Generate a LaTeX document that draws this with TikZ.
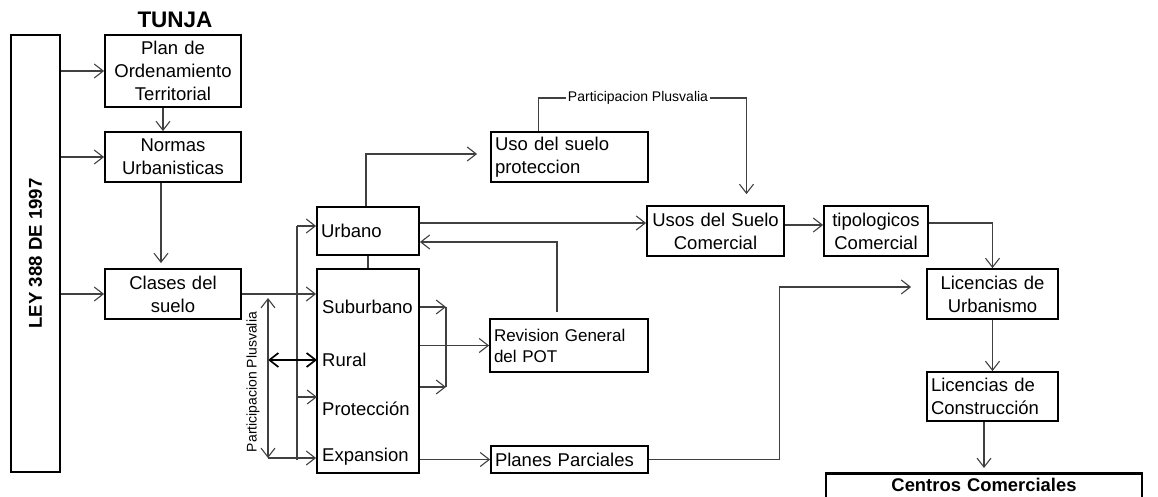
\documentclass[tikz,border=0pt]{standalone}
\usepackage{fontspec}
\setmainfont{Liberation Sans}
\usetikzlibrary{arrows.meta,calc}

\begin{document}
\begin{tikzpicture}[x=1pt,y=-1pt,
  box/.style={draw=black,line width=1.8pt,fill=white,inner xsep=4pt,inner ysep=0pt,font=\fontsize{18.5}{23}\selectfont},
  lbl/.style={inner sep=0pt,anchor=west,font=\fontsize{18.5}{23}\selectfont},
  small/.style={inner sep=1.5pt,font=\fontsize{14}{16}\selectfont},
  conn/.style={draw=black!75,line width=1.1pt},
  arr/.style={conn,-{Straight Barb[length=9pt,width=14pt]}},
  darr/.style={conn,{Straight Barb[length=9pt,width=14pt]}-{Straight Barb[length=9pt,width=14pt]}}]
\useasboundingbox (0,0) rectangle (1158,497);
\clip (0,0) rectangle (1158,497);

\node[font=\bfseries\fontsize{22.5}{26}\selectfont] (tunja) at (175,20) {TUNJA};
\node[box,minimum width=49pt,minimum height=437pt] (ley) at (35.5,253.5) {};
\node[rotate=90,font=\bfseries\fontsize{18.6}{22}\selectfont] (leytext) at (ley) {LEY 388 DE 1997};

\node[box,text width=128pt,minimum height=72pt,align=center] (pot) at (173,71) {Plan de\\Ordenamiento\\Territorial};
\node[box,text width=128pt,minimum height=50pt,align=center] (normas) at (173,157) {Normas\\Urbanisticas};
\node[box,text width=128pt,minimum height=50pt,align=center] (clases) at (173,294) {Clases del\\suelo};

\node[box,text width=94pt,minimum height=48pt,align=left] (urbano) at (368,231) {Urbano};
\node[box,minimum width=102pt,minimum height=204pt] (suelo) at (368,371) {};
\node[lbl] (suburbano) at (322,307) {Suburbano};
\node[lbl] (rural) at (322,360) {Rural};
\node[lbl] (proteccion) at (322,409) {Protección};
\node[lbl] (expansion) at (322,457) {Expansion};

\node[box,text width=149pt,minimum height=50pt,align=left] (usobox) at (569.5,157) {Uso del suelo\\proteccion};
\node[box,text width=150pt,minimum height=53pt,align=left,font=\fontsize{17}{21}\selectfont] (revision) at (569,345.5) {Revision General\\del POT};
\node[box,text width=149pt,minimum height=27pt,align=left] (planes) at (569.5,459.5) {Planes Parciales};

\node[box,text width=129pt,minimum height=50pt,align=center] (usos) at (715.5,231) {Usos del Suelo\\Comercial};
\node[box,text width=96pt,minimum height=50pt,align=center] (tipologicos) at (876,231) {tipologicos\\Comercial};
\node[box,text width=123pt,minimum height=50pt,align=center] (licurb) at (992.5,294) {Licencias de\\Urbanismo};
\node[box,text width=123pt,minimum height=49pt,align=left] (liccons) at (992.5,396.5) {Licencias de\\Construcción};
\node[box,line width=2.6pt,text width=308pt,align=center,anchor=north,inner ysep=5pt,text height=13pt,text depth=28pt,font=\bfseries\fontsize{18.4}{22}\selectfont] (centros) at (984,472) {Centros Comerciales};

\node[small] (plustop) at (638,98) {Participacion Plusvalia};
\node[small,rotate=90] (plusleft) at (253,382) {Participacion Plusvalia};

\draw[arr] (ley.east |- pot.west) -- (pot.west);
\draw[arr] (ley.east |- normas.west) -- (normas.west);
\draw[arr] (ley.east |- clases.west) -- (clases.west);
\draw[arr] ($(pot.south)+(-10,0)$) -- ($(normas.north)+(-10,0)$);
\draw[arr,shorten >=5pt] ($(normas.south)+(-12,0)$) -- ($(clases.north)+(-12,0)$);
\draw[arr] (clases.east) -- (clases.east -| suelo.west);

\coordinate (bustop) at (297,226);
\coordinate (busbot) at (297,460);
\draw[conn] (busbot) -- (bustop);
\draw[arr] (bustop) -- (bustop -| urbano.west);
\draw[arr] ($(proteccion.west)+(-25,-12)$) -- ($(proteccion.west)+(-5,-12)$);
\draw[darr,draw=black,line width=1.7pt] ($(rural.west)+(-54,0)$) -- ($(rural.west)+(-5,0)$);
\coordinate (pvtop) at (268,298);
\coordinate (pvbot) at (268,458);
\draw[darr] (pvtop) -- (pvbot);
\draw[arr] (pvbot) -- (pvbot -| suelo.west);

\coordinate (mtop) at (446,307);
\coordinate (mbot) at (446,387);
\draw[arr] (suelo.east |- mtop) -- (mtop);
\draw[arr] (suelo.east |- mbot) -- (mbot);
\draw[conn] (mtop) -- (mbot);
\draw[arr] (suelo.east |- revision.west) -- (revision.west);
\draw[conn] (urbano.south) -- (suelo.north);
\draw[arr,shorten <=6pt] ($(revision.north)+(-12,0)$) |- ($(urbano.east)+(0,11)$);
\draw[arr] ($(urbano.north)+(-2,0)$) |- ($(usobox.west)+(-13,-3)$);
\draw[arr] ($(urbano.east)+(0,-8)$) -- ($(usos.west)+(0,-8)$);
\draw[arr] (suelo.east |- planes.west) -- (planes.west);

\draw[conn] ($(usobox.north)+(-31,0)$) |- (plustop.west);
\draw[arr] (plustop.east) -| ($(usos.north)+(31,-11)$);
\draw[arr] ($(usos.east)+(0,-6)$) -- ($(tipologicos.west)+(0,-6)$);
\draw[arr] ($(tipologicos.east)+(0,-8)$) -| (licurb.north);
\draw[arr] (planes.east) -- ++(131,0) |- ($(licurb.west)+(-15,-7)$);
\draw[arr] (licurb.south) -- (liccons.north);
\draw[arr,shorten >=4pt] (liccons.south -| centros.north) -- (centros.north);
\end{tikzpicture}
\end{document}
